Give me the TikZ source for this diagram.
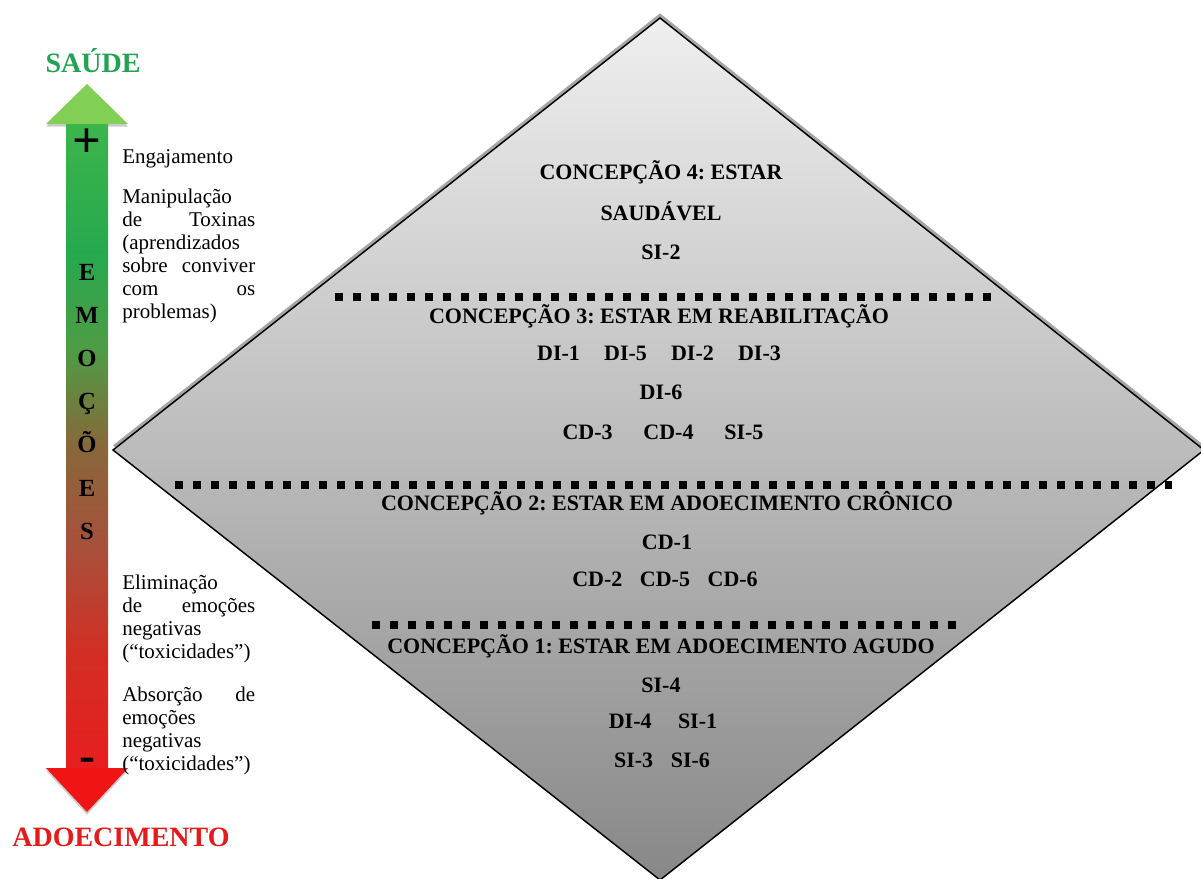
\documentclass[tikz,border=0pt]{standalone}
\usepackage{fontspec}
\setmainfont{Liberation Serif}
\usetikzlibrary{shadows}
\frenchspacing

\definecolor{healthgreen}{HTML}{22A352}
\definecolor{illred}{HTML}{E51A1A}
\definecolor{headgreen}{HTML}{82CF55}
\definecolor{headred}{HTML}{F01414}
\definecolor{diaTop}{HTML}{EFEFEF}
\definecolor{diaMid}{HTML}{BDBDBD}
\definecolor{diaBot}{HTML}{888888}
\definecolor{diaShadow}{HTML}{A6A6A6}
\definecolor{shaftA}{HTML}{E81E1E}
\definecolor{shaftB}{HTML}{D22E24}
\definecolor{shaftC}{HTML}{A8503A}
\definecolor{shaftD}{HTML}{88683A}
\definecolor{shaftE}{HTML}{4E9C45}
\definecolor{shaftF}{HTML}{26A94E}
\definecolor{shaftG}{HTML}{3CB54B}
\pgfdeclareverticalshading{emotions}{100bp}{color(0bp)=(shaftA); color(25bp)=(shaftA); color(34bp)=(shaftB); color(42bp)=(shaftC); color(50bp)=(shaftD); color(57.5bp)=(shaftE); color(65bp)=(shaftF); color(75bp)=(shaftG); color(100bp)=(shaftG)}

\newcommand{\spreadline}[2]{\leavevmode\hbox to 99.75pt{#1\hfill #2}}

\begin{document}
\begin{tikzpicture}[x=0.75pt, y=-0.75pt,
            concept/.style={font=\fontsize{16.5}{20}\selectfont\bfseries, anchor=base, inner sep=0pt},
            note/.style={font=\fontsize{15.75}{17.25}\selectfont, align=left, anchor=north west, inner sep=0pt, text width=99.75pt},
            emoletter/.style={font=\fontsize{18.5}{20}\selectfont\bfseries, anchor=base, inner sep=0pt},
            pole/.style={font=\fontsize{21}{24}\selectfont\bfseries, anchor=base, inner sep=0pt},
            head/.style={drop shadow={shadow xshift=0pt, shadow yshift=-2pt, fill=black!40}},
            sepline/.style={line width=6pt, dash pattern=on 6pt off 7.5pt}]

            \useasboundingbox (0,0) rectangle (1201,878);

            % Diamond of conceptions
            \coordinate (dtop) at (660,18);
            \coordinate (dright) at (1204,450);
            \coordinate (dbot) at (660,880);
            \coordinate (dleft) at (113,450);
            \fill[diaShadow] ([yshift=3.5pt]dtop) -- ([yshift=3.5pt]dright) -- ([yshift=3.5pt]dbot) -- ([yshift=3.5pt]dleft) -- cycle;
            \shade[top color=diaTop, middle color=diaMid, bottom color=diaBot, draw=black, line width=1.1pt]
                (dtop) -- (dright) -- (dbot) -- (dleft) -- cycle;

            % Dotted separators
            \draw[sepline] (335,297) -- (992,297);
            \draw[sepline] (175,485) -- (1172,485);
            \draw[sepline] (372,625) -- (962,625);

            % Conception 4
            \node[concept] (c4a) at (661,179) {CONCEPÇÃO 4: ESTAR};
            \node[concept] (c4b) at (661,220) {SAUDÁVEL};
            \node[concept] (c4c) at (661,259) {SI-2};

            % Conception 3
            \node[concept] (c3a) at (659,323) {CONCEPÇÃO 3: ESTAR EM REABILITAÇÃO};
            \node[concept] (c3b) at (659,360) {DI-1\hspace{1.1em}DI-5\hspace{1.1em}DI-2\hspace{1.1em}DI-3};
            \node[concept] (c3c) at (661,399) {DI-6};
            \node[concept] (c3d) at (663,439) {CD-3\hspace{1.4em}CD-4\hspace{1.4em}SI-5};

            % Conception 2
            \node[concept] (c2a) at (667,510) {CONCEPÇÃO 2: ESTAR EM ADOECIMENTO CRÔNICO};
            \node[concept] (c2b) at (667,549) {CD-1};
            \node[concept] (c2c) at (665,586) {CD-2\hspace{0.8em}CD-5\hspace{0.8em}CD-6};

            % Conception 1
            \node[concept] (c1a) at (661,653) {CONCEPÇÃO 1: ESTAR EM ADOECIMENTO AGUDO};
            \node[concept] (c1b) at (661,692) {SI-4};
            \node[concept] (c1c) at (663,728) {DI-4\hspace{1.2em}SI-1};
            \node[concept] (c1d) at (662,767) {SI-3\hspace{0.8em}SI-6};

            % Emotions arrow
            \fill[headgreen, head] (46,124) -- (87,84) -- (128,124) -- cycle;
            \shade[shading=emotions] (66,124) rectangle (108,768);
            \fill[headred, head] (46,768) -- (128,768) -- (87,812) -- cycle;
            \node[font=\fontsize{38}{38}\selectfont\bfseries, inner sep=0pt] (plus) at (87,143) {+};
            \node[font=\fontsize{36}{36}\selectfont\bfseries, inner sep=0pt] (minus) at (87,765) {-};

            \foreach \ch/\yy [count=\i] in {E/280, M/323, O/366, Ç/409, Õ/452, E/496, S/539}
                \node[emoletter] (emo\i) at (87,\yy) {\ch};

            % Poles
            \node[pole, text=healthgreen] (saude) at (93,72) {SAÚDE};
            \node[pole, text=illred] (adoec) at (121,846) {ADOECIMENTO};

            % Side notes
            \node[note] (eng) at (122,149) {Engajamento};
            \node[note] (manip) at (122,189) {Manipulação\\ \spreadline{de}{Toxinas}\\ (aprendizados\\ \spreadline{sobre}{conviver}\\ \spreadline{com}{os}\\ problemas)};
            \node[note] (elim) at (122,575) {Eliminação\\ \spreadline{de}{emoções}\\ negativas\\ (“toxicidades”)};
            \node[note] (absor) at (122,687) {\spreadline{Absorção}{de}\\ emoções\\ negativas\\ (“toxicidades”)};
        \end{tikzpicture}
\end{document}
